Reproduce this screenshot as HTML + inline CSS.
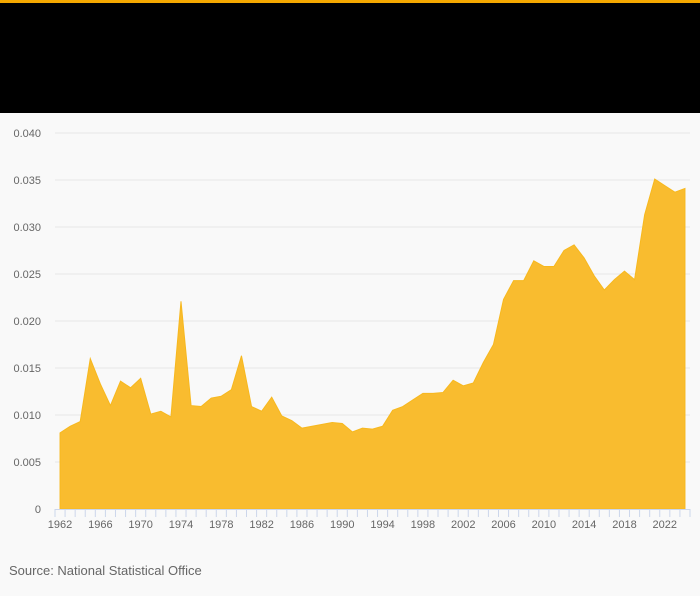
<!DOCTYPE html>
<html><head><meta charset="utf-8"><style>
body{margin:0;width:700px;height:596px;background:#f9f9f9;font-family:"Liberation Sans",sans-serif;overflow:hidden}
</style></head><body>
<div style="position:absolute;left:0;top:0;width:700px;height:3px;background:#f5a800"></div>
<div style="position:absolute;left:0;top:3px;width:700px;height:110px;background:#000"></div>
<svg id="chart" width="700" height="596" style="position:absolute;left:0;top:0"></svg>
<div style="position:absolute;left:9px;top:563px;font-size:13px;color:#666">Source: National Statistical Office</div>
<script>
const years=[];for(let y=1962;y<=2024;y++)years.push(y);
const values=[.0081,.0088,.0093,.0160,.0133,.0110,.0136,.0129,.0139,.0101,.0104,.0098,.0221,.0110,.0109,.0118,.0120,.0127,.0163,.0109,.0104,.0119,.0099,.0094,.0086,.0088,.0090,.0092,.0091,.0082,.0086,.0085,.0088,.0105,.0109,.0116,.0123,.0123,.0124,.0137,.0131,.0134,.0156,.0175,.0223,.0243,.0243,.0264,.0258,.0258,.0275,.0281,.0267,.0248,.0233,.0244,.0253,.0244,.0313,.0351,.0344,.0337,.0341];
const yTicks=[0,0.005,0.010,0.015,0.020,0.025,0.030,0.035,0.040];
const yTickLabels=["0","0.005","0.010","0.015","0.020","0.025","0.030","0.035","0.040"];
const L=55,R=690,T=133,B=509,ymax=0.04;
const bw=(R-L)/years.length;
const xs=i=>L+bw*(i+0.5);
const ys=v=>B-(v/ymax)*(B-T);
const svg=document.getElementById('chart');const NS='http://www.w3.org/2000/svg';
function mk(t,a){const e=document.createElementNS(NS,t);for(const k in a)e.setAttribute(k,a[k]);svg.appendChild(e);return e;}
yTicks.forEach((v,i)=>{
 if(v>0){const g=mk('line',{x1:L,x2:R,y1:ys(v),y2:ys(v),stroke:'#e6e6e6','stroke-width':1});
 
 }
 const t=mk('text',{x:41,y:ys(v)+4,'text-anchor':'end','font-size':11,fill:'#666'});
 
 
 t.textContent=yTickLabels[i];
});
let d='M'+xs(0)+','+B;
values.forEach((v,i)=>{d+=' L'+xs(i)+','+ys(v);});
d+=' L'+xs(values.length-1)+','+B+' Z';
const a=mk('path',{d:d,fill:'#f9bc2f',stroke:'#f7b81e','stroke-width':1});


const ax=mk('line',{x1:L,x2:R,y1:B+0.5,y2:B+0.5,stroke:'#ccd6eb'});


for(let i=0;i<=years.length;i++){
 const tk=mk('line',{x1:L+bw*i,x2:L+bw*i,y1:B,y2:B+8,stroke:'#ccd6eb'});
 
 
}
years.forEach((y,i)=>{if((y-1962)%4===0){
 const t=mk('text',{x:xs(i),y:528,'text-anchor':'middle','font-size':11,fill:'#666'});
 
 
 t.textContent=y;}});
</script>
</body></html>
